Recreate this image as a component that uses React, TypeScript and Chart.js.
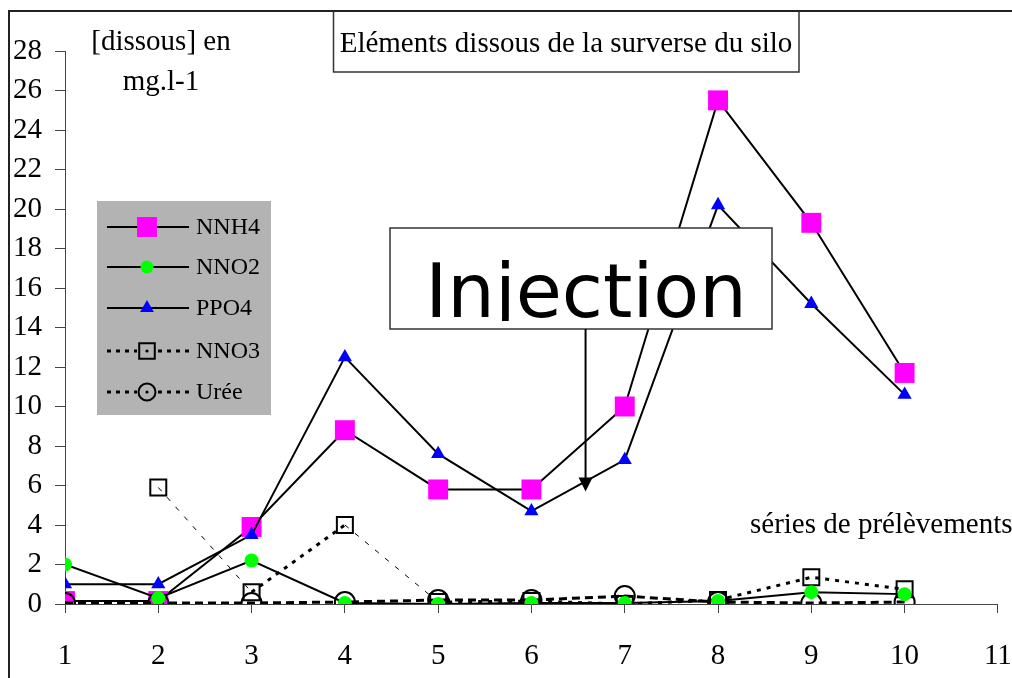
import React, { useEffect, useRef } from "react";
import { Chart, registerables } from "chart.js";

Chart.register(...registerables);

// ---- data ----
const categories = [1, 2, 3, 4, 5, 6, 7, 8, 9, 10];
const xAxisMin = 1;
const xAxisMax = 11;
const yAxisMin = 0;
const yAxisMax = 28;
const yAxisStep = 2;

const seriesNames = ["NNH4", "NNO2", "PPO4", "NNO3", "Urée"];
const nnh4 = [0.15, 0.15, 3.9, 8.8, 5.8, 5.8, 10.0, 25.5, 19.3, 11.7];
const nno2 = [2.0, 0.3, 2.2, 0.05, 0.0, 0.05, 0.05, 0.15, 0.6, 0.5];
const ppo4 = [1.0, 1.0, 3.5, 12.5, 7.6, 4.7, 7.3, 20.2, 15.2, 10.6];
const nno3: (number | null)[] = [null, 5.9, 0.6, 4.0, 0.1, 0.15, 0.0, 0.2, 1.35, 0.75];
const uree = [0.05, 0.05, 0.05, 0.1, 0.2, 0.2, 0.4, 0.1, 0.05, 0.1];

const titleText = "Eléments dissous de la surverse du silo";
const yTitleLines = ["[dissous] en", "mg.l-1"];
const xTitleText = "séries de prélèvements";
const injectionText = "Injection";
const injectionPoint = { x: 6.58, y: 5.7 };

const SERIF = "'Liberation Serif', 'Times New Roman', serif";

function pts(values: (number | null)[]) {
  return values.map((v, i) => ({ x: categories[i], y: v }));
}

function drawMarker(
  ctx: CanvasRenderingContext2D,
  style: string,
  x: number,
  y: number,
  r: number,
  fill: string | null,
  stroke: string | null,
  lw: number
) {
  ctx.beginPath();
  if (style === "rect") {
    const s = Math.SQRT1_2 * r;
    ctx.rect(x - s, y - s, 2 * s, 2 * s);
  } else if (style === "triangle") {
    let rad = 0;
    ctx.moveTo(x + Math.sin(rad) * r, y - Math.cos(rad) * r);
    rad += (2 * Math.PI) / 3;
    ctx.lineTo(x + Math.sin(rad) * r, y - Math.cos(rad) * r);
    rad += (2 * Math.PI) / 3;
    ctx.lineTo(x + Math.sin(rad) * r, y - Math.cos(rad) * r);
    ctx.closePath();
  } else {
    ctx.arc(x, y, r, 0, Math.PI * 2);
  }
  if (fill) {
    ctx.fillStyle = fill;
    ctx.fill();
  }
  if (stroke && lw > 0) {
    ctx.strokeStyle = stroke;
    ctx.lineWidth = lw;
    ctx.stroke();
  }
}

const legendMarkerRadius = [14.1, 6.5, 8, 11, 8.5];

const decorPlugin = {
  id: "decor",
  beforeDraw(chart: any) {
    const ctx = chart.ctx as CanvasRenderingContext2D;
    ctx.save();
    ctx.fillStyle = "#ffffff";
    ctx.fillRect(0, 0, chart.width, chart.height);
    ctx.restore();
  },
  afterDraw(chart: any) {
    const ctx = chart.ctx as CanvasRenderingContext2D;
    const xs = chart.scales.x;
    const ys = chart.scales.y;
    ctx.save();

    // outer frame (extends beyond the picture on the right / bottom)
    ctx.strokeStyle = "#222";
    ctx.lineWidth = 2;
    ctx.strokeRect(9, 11, 1200, 900);

    // title box
    ctx.fillStyle = "#fff";
    ctx.fillRect(333, 12, 466, 60);
    ctx.lineWidth = 1.5;
    ctx.strokeStyle = "#333";
    ctx.beginPath();
    ctx.moveTo(333.5, 11);
    ctx.lineTo(333.5, 72);
    ctx.lineTo(799, 72);
    ctx.lineTo(799, 11);
    ctx.stroke();
    ctx.fillStyle = "#000";
    ctx.font = `29px ${SERIF}`;
    ctx.textAlign = "center";
    ctx.textBaseline = "alphabetic";
    ctx.fillText(titleText, 566, 52);

    // y title
    ctx.font = `29px ${SERIF}`;
    ctx.fillText(yTitleLines[0], 161, 50);
    ctx.fillText(yTitleLines[1], 161, 90);

    // x title
    ctx.textAlign = "left";
    ctx.fillText(xTitleText, 750, 533);

    // legend
    const lx = 97, ly = 201, lw = 174, lh = 214;
    ctx.fillStyle = "#b3b3b3";
    ctx.fillRect(lx, ly, lw, lh);
    const rowY = [227, 267, 308, 351, 392];
    const ds = chart.data.datasets;
    ds.forEach((d: any, i: number) => {
      const y = rowY[i];
      const mx = 147;
      ctx.save();
      ctx.strokeStyle = "#000";
      if (d.legendDash) {
        ctx.lineWidth = 3;
        ctx.setLineDash(d.legendDash);
        ctx.beginPath();
        ctx.moveTo(107, y);
        ctx.lineTo(137, y);
        ctx.moveTo(158, y);
        ctx.lineTo(189, y);
        ctx.stroke();
      } else {
        ctx.lineWidth = 2;
        ctx.beginPath();
        ctx.moveTo(107, y);
        ctx.lineTo(189, y);
        ctx.stroke();
      }
      ctx.restore();
      const fill = d.pointBackgroundColor === "transparent" ? null : d.pointBackgroundColor;
      drawMarker(ctx, d.pointStyle, mx, y, legendMarkerRadius[i], fill, "#000", d.pointBorderWidth);
      if (!fill) {
        ctx.fillStyle = "#000";
        ctx.beginPath();
        ctx.arc(mx, y, 1.6, 0, Math.PI * 2);
        ctx.fill();
      }
      ctx.fillStyle = "#000";
      ctx.font = `24px ${SERIF}`;
      ctx.textAlign = "left";
      ctx.textBaseline = "middle";
      ctx.fillText(d.label, 196, y + 1);
    });

    // injection annotation
    const bx = 390, by = 228, bw = 382, bh = 101;
    ctx.fillStyle = "#fff";
    ctx.fillRect(bx, by, bw, bh);
    ctx.strokeStyle = "#333";
    ctx.lineWidth = 1.5;
    ctx.strokeRect(bx, by, bw, bh);
    ctx.save();
    ctx.beginPath();
    ctx.rect(bx + 2, by + 2, bw - 4, 319 - by);
    ctx.clip();
    ctx.fillStyle = "#000";
    ctx.font = "75px 'DejaVu Sans', sans-serif";
    ctx.textAlign = "center";
    ctx.textBaseline = "alphabetic";
    ctx.fillText(injectionText, 586, 317);
    ctx.restore();

    const tipX = xs.getPixelForValue(injectionPoint.x);
    const tipY = ys.getPixelForValue(injectionPoint.y);
    ctx.strokeStyle = "#000";
    ctx.lineWidth = 2;
    ctx.beginPath();
    ctx.moveTo(tipX, by + bh);
    ctx.lineTo(tipX, tipY - 10);
    ctx.stroke();
    ctx.fillStyle = "#000";
    ctx.beginPath();
    ctx.moveTo(tipX, tipY);
    ctx.lineTo(tipX - 7, tipY - 14);
    ctx.lineTo(tipX + 7, tipY - 14);
    ctx.closePath();
    ctx.fill();

    ctx.restore();
  },
};

export default function App() {
  const ref = useRef<HTMLCanvasElement | null>(null);

  useEffect(() => {
    if (!ref.current) return;
    const datasets: any[] = [
      {
        label: seriesNames[0],
        data: pts(nnh4),
        borderColor: "#000",
        borderWidth: 2,
        pointStyle: "rect",
        pointRadius: 14.1,
        pointBackgroundColor: "#ff00ff",
        pointBorderColor: "#ff00ff",
        pointBorderWidth: 0,
        order: 4,
      },
      {
        label: seriesNames[1],
        data: pts(nno2),
        borderColor: "#000",
        borderWidth: 2,
        pointStyle: "circle",
        pointRadius: 7,
        pointBackgroundColor: "#00ff00",
        pointBorderColor: "#00ff00",
        pointBorderWidth: 0,
        order: 0,
      },
      {
        label: seriesNames[2],
        data: pts(ppo4),
        borderColor: "#000",
        borderWidth: 2,
        pointStyle: "triangle",
        pointRadius: 8.2,
        pointBackgroundColor: "#0000ff",
        pointBorderColor: "#0000ff",
        pointBorderWidth: 0,
        order: 3,
      },
      {
        label: seriesNames[3],
        data: pts(nno3),
        borderColor: "#000",
        borderWidth: 3,
        borderDash: [4, 6],
        legendDash: [4, 5],
        segment: {
          borderWidth: (c: any) => (c.p0DataIndex === 1 || c.p0DataIndex === 3 ? 1 : 3),
          borderDash: (c: any) => (c.p0DataIndex === 1 || c.p0DataIndex === 3 ? [5, 8] : [4, 6]),
        },
        pointStyle: "rect",
        pointRadius: 11.3,
        pointBackgroundColor: "transparent",
        pointBorderColor: "#000",
        pointBorderWidth: 2,
        spanGaps: false,
        order: 2,
      },
      {
        label: seriesNames[4],
        data: pts(uree),
        borderColor: "#000",
        borderWidth: 3,
        borderDash: [8, 5],
        legendDash: [4, 5],
        pointStyle: "circle",
        pointRadius: 10,
        pointBackgroundColor: "transparent",
        pointBorderColor: "#000",
        pointBorderWidth: 2,
        order: 1,
      },
    ];

    const chart = new Chart(ref.current, {
      type: "line",
      data: { datasets },
      options: {
        animation: false,
        responsive: false,
        devicePixelRatio: 1,
        events: [],
        layout: { padding: { left: 0, top: 51, right: 12, bottom: 0 } },
        plugins: {
          legend: { display: false },
          tooltip: { enabled: false },
          title: { display: false },
        },
        elements: { line: { tension: 0 } },
        scales: {
          x: {
            type: "linear",
            min: xAxisMin,
            max: xAxisMax,
            ticks: {
              stepSize: 1,
              color: "#000",
              font: { family: SERIF, size: 29 },
              padding: 26,
              maxRotation: 0,
              autoSkip: false,
            },
            grid: {
              display: true,
              drawOnChartArea: false,
              drawTicks: true,
              tickLength: 9,
              color: "#444",
            },
            border: { display: true, color: "#444", width: 1 },
            afterFit: (s: any) => {
              s.height = 74;
              s.paddingLeft = 0;
              s.paddingRight = 0;
            },
          } as any,
          y: {
            type: "linear",
            min: yAxisMin,
            max: yAxisMax,
            ticks: {
              stepSize: yAxisStep,
              color: "#000",
              font: { family: SERIF, size: 29 },
              padding: 13,
            },
            grid: {
              display: true,
              drawOnChartArea: false,
              drawTicks: true,
              tickLength: 10,
              color: "#444",
            },
            border: { display: true, color: "#444", width: 1 },
            afterFit: (s: any) => {
              s.width = 65;
              s.paddingTop = 0;
              s.paddingBottom = 0;
            },
          } as any,
        },
      },
      plugins: [decorPlugin],
    });
    return () => chart.destroy();
  }, []);

  return (
    <div style={{ position: "fixed", left: 0, top: 0, width: 1012, height: 678, background: "#fff" }}>
      <canvas ref={ref} width={1012} height={678} style={{ display: "block" }} />
    </div>
  );
}
